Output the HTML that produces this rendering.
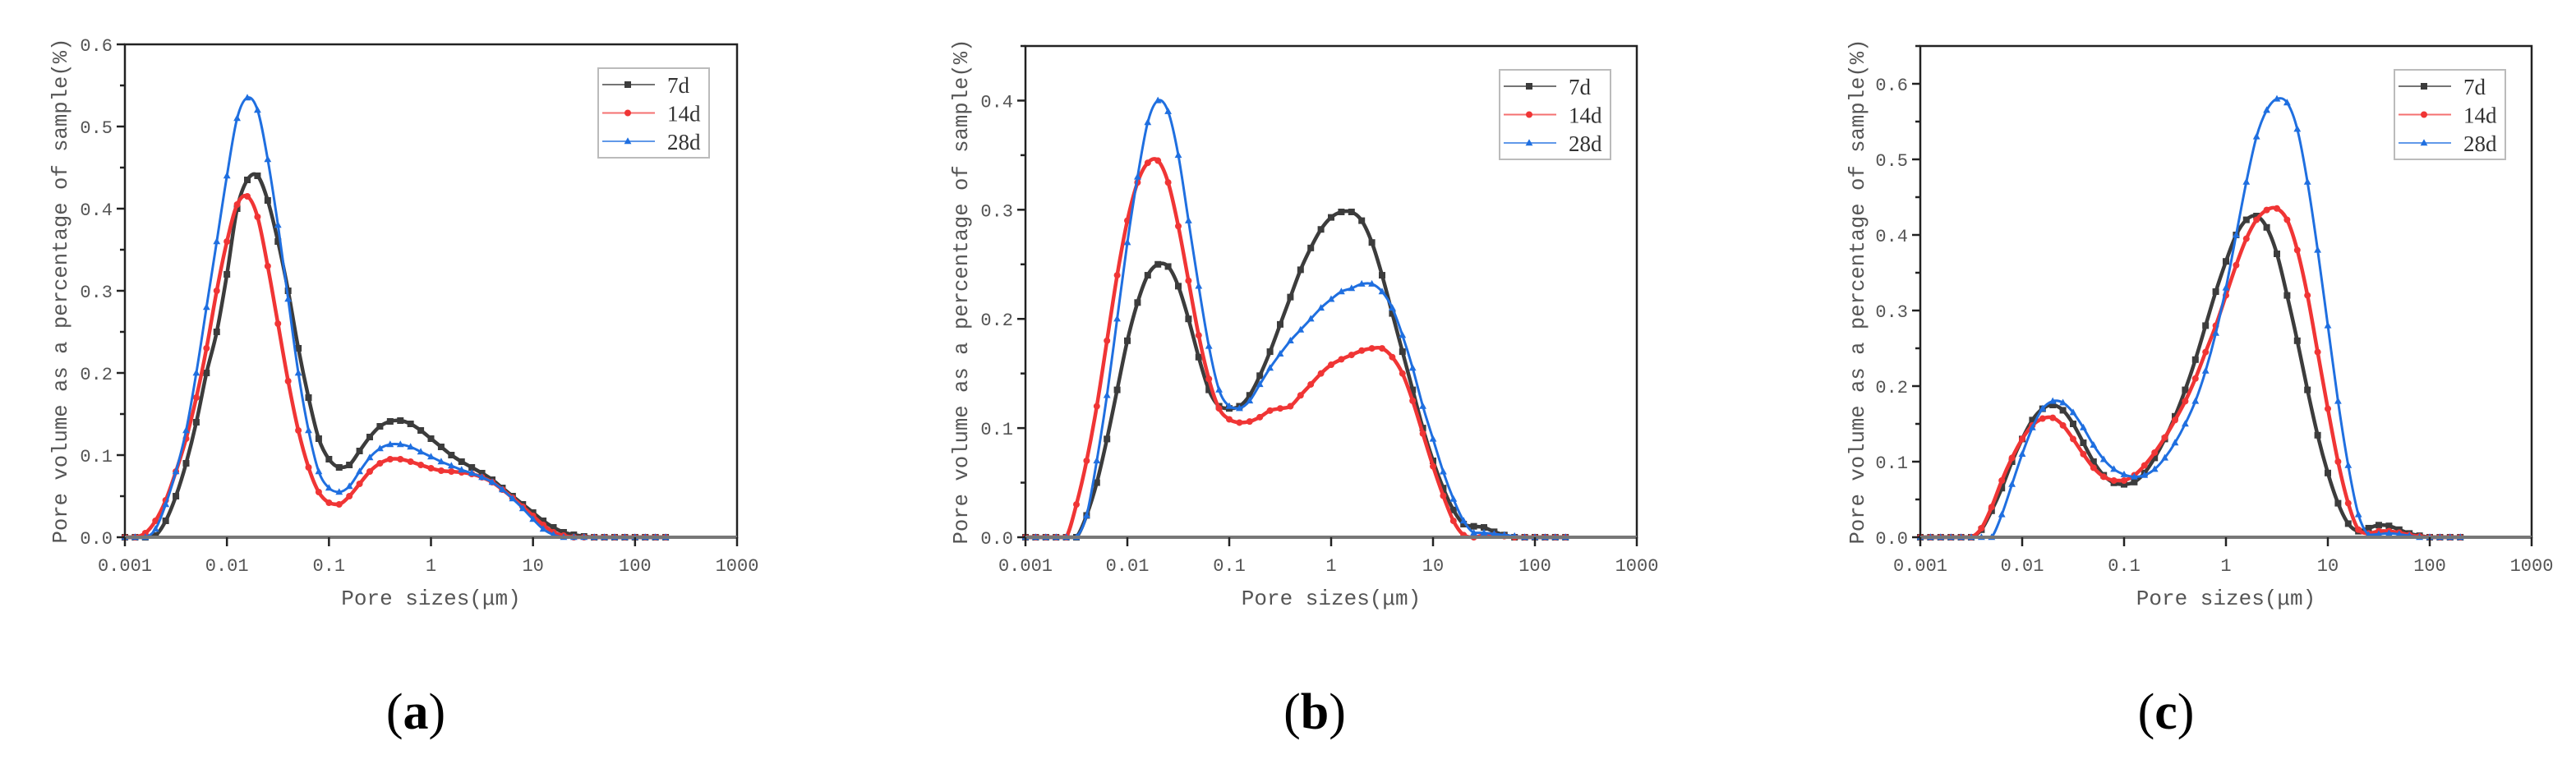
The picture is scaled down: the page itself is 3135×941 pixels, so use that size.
<!DOCTYPE html>
<html><head><meta charset="utf-8">
<style>
html,body{margin:0;padding:0;background:#fff;}
svg{display:block;}
.tick{font-family:"Liberation Mono","DejaVu Sans Mono",monospace;font-size:22px;fill:#555;}
.ttl{font-family:"Liberation Mono","DejaVu Sans Mono",monospace;font-size:26px;fill:#555;}
.leg{font-family:"Liberation Serif",serif;font-size:27px;fill:#333;}
.plab{font-family:"Liberation Serif",serif;font-size:62px;fill:#000;}
</style></head>
<body>
<svg id="fig" width="3135" height="941" viewBox="0 0 3135 941" xmlns="http://www.w3.org/2000/svg"></svg>
<script>
// shared pore size grid, log10(µm)
const poreSizeLog = [-3.0,-2.9,-2.8,-2.7,-2.6,-2.5,-2.4,-2.3,-2.2,-2.1,-2.0,-1.9,-1.8,-1.7,-1.6,-1.5,-1.4,-1.3,-1.2,-1.1,-1.0,-0.9,-0.8,-0.7,-0.6,-0.5,-0.4,-0.3,-0.2,-0.1,0.0,0.1,0.2,0.3,0.4,0.5,0.6,0.7,0.8,0.9,1.0,1.1,1.2,1.3,1.4,1.5,1.6,1.7,1.8,1.9,2.0,2.1,2.2,2.3];
const xTickLabels = ["0.001","0.01","0.1","1","10","100","1000"];
const seriesNames = ["7d","14d","28d"];

const a7  = [0,0,0,0.002, 0.02,0.05,0.09,0.14,0.2,0.25,0.32,0.4,0.435,0.44, 0.41,0.36,0.3,0.23,0.17,0.12,0.095,0.085,0.088,0.105, 0.122,0.135,0.141,0.142,0.138,0.13,0.12,0.11,0.1,0.092, 0.085,0.078,0.07,0.06,0.05,0.04,0.03,0.02,0.012,0.006, 0.003,0.001,0,0,0,0,0,0,0,0];
const a14 = [0,0,0.005,0.02, 0.045,0.08,0.12,0.17,0.23,0.3,0.36,0.405,0.415,0.39, 0.33,0.26,0.19,0.13,0.085,0.055,0.042,0.04,0.05,0.065, 0.08,0.09,0.095,0.095,0.092,0.088,0.084,0.081,0.08,0.079, 0.077,0.073,0.067,0.058,0.048,0.037,0.026,0.015,0.006,0.002, 0,0,0,0,0,0,0,0,0,0];
const a28 = [0,0,0,0.01, 0.04,0.08,0.13,0.2,0.28,0.36,0.44,0.51,0.535,0.52, 0.46,0.38,0.29,0.2,0.13,0.08,0.06,0.055,0.062,0.08, 0.097,0.108,0.113,0.113,0.11,0.104,0.098,0.092,0.087,0.082, 0.078,0.073,0.067,0.058,0.047,0.035,0.022,0.01,0.003,0, 0,0,0,0,0,0,0,0,0,0];

const b7  = [0,0,0,0, 0,0,0.02,0.05,0.09,0.135,0.18,0.215,0.24,0.25, 0.248,0.23,0.2,0.165,0.135,0.12,0.118,0.12,0.13,0.148, 0.17,0.195,0.22,0.245,0.265,0.282,0.293,0.298,0.298,0.29, 0.27,0.24,0.205,0.17,0.135,0.1,0.07,0.045,0.025,0.012, 0.01,0.009,0.005,0.002,0,0,0,0,0,0];
const b14 = [0,0,0,0, 0,0.03,0.07,0.12,0.18,0.24,0.29,0.325,0.343,0.345, 0.325,0.285,0.235,0.185,0.145,0.118,0.108,0.105,0.106,0.11, 0.116,0.118,0.12,0.13,0.14,0.15,0.158,0.163,0.167,0.171, 0.173,0.173,0.165,0.15,0.125,0.095,0.065,0.038,0.015,0.002, 0,0.002,0.002,0.001,0,0,0,0,0,0];
const b28 = [0,0,0,0, 0,0,0.02,0.07,0.13,0.2,0.27,0.33,0.38,0.4, 0.39,0.35,0.29,0.23,0.175,0.135,0.12,0.118,0.125,0.14, 0.155,0.168,0.18,0.19,0.2,0.21,0.218,0.225,0.228,0.232, 0.232,0.225,0.21,0.185,0.155,0.12,0.09,0.06,0.035,0.015, 0.004,0.004,0.003,0.002,0.001,0,0,0,0,0];

const c7  = [0,0,0,0, 0,0,0.01,0.035,0.065,0.1,0.13,0.155,0.17,0.175, 0.168,0.15,0.125,0.1,0.082,0.072,0.07,0.073,0.085,0.105, 0.13,0.16,0.195,0.235,0.28,0.325,0.365,0.4,0.42,0.425, 0.41,0.375,0.32,0.26,0.195,0.135,0.085,0.045,0.018,0.008, 0.012,0.016,0.015,0.01,0.005,0.002,0,0,0,0];
const c14 = [0,0,0,0, 0,0,0.012,0.04,0.075,0.105,0.13,0.148,0.157,0.158, 0.148,0.13,0.11,0.092,0.08,0.075,0.075,0.082,0.095,0.112, 0.132,0.155,0.18,0.21,0.245,0.28,0.32,0.36,0.395,0.42, 0.433,0.435,0.42,0.38,0.32,0.245,0.17,0.1,0.045,0.01, 0.005,0.008,0.008,0.006,0.003,0.001,0,0,0,0];
const c28 = [0,0,0,0, 0,0,0,0,0.03,0.07,0.11,0.145,0.17,0.18, 0.178,0.165,0.145,0.122,0.103,0.09,0.083,0.08,0.082,0.09, 0.105,0.125,0.15,0.18,0.22,0.27,0.33,0.4,0.47,0.53, 0.565,0.58,0.575,0.54,0.47,0.38,0.28,0.18,0.095,0.03, 0.003,0.004,0.005,0.004,0.002,0,0,0,0,0];

const aYTicks = ["0.0","0.1","0.2","0.3","0.4","0.5","0.6"];
const bYTicks = ["0.0","0.1","0.2","0.3","0.4"];
const cYTicks = ["0.0","0.1","0.2","0.3","0.4","0.5","0.6"];

const NS = "http://www.w3.org/2000/svg";
const svg = document.getElementById('fig');
const colors = ["#3c3c3c","#f03535","#1f6fe0"];

function mk(tag, parent){ const e=document.createElementNS(NS,tag); parent.appendChild(e); return e; }

function smoothPath(pts){
  let d = "M"+pts[0][0].toFixed(1)+","+pts[0][1].toFixed(1);
  for(let i=0;i<pts.length-1;i++){
    const p0=pts[Math.max(0,i-1)], p1=pts[i], p2=pts[i+1], p3=pts[Math.min(pts.length-1,i+2)];
    let c1y=p1[1]+(p2[1]-p0[1])/6, c2y=p2[1]-(p3[1]-p1[1])/6;
    const base = Math.max(p1[1],p2[1]);
    c1y=Math.min(c1y,base); c2y=Math.min(c2y,base);
    d+=" C"+(p1[0]+(p2[0]-p0[0])/6).toFixed(1)+","+c1y.toFixed(1)+" "+(p2[0]-(p3[0]-p1[0])/6).toFixed(1)+","+c2y.toFixed(1)+" "+p2[0].toFixed(1)+","+p2[1].toFixed(1);
  }
  return d;
}

function marker(g, k, x, y, s){
  let m;
  if(k===0){ m=mk('rect',g); m.setAttribute('x',x-s/2); m.setAttribute('y',y-s/2); m.setAttribute('width',s); m.setAttribute('height',s); }
  else if(k===1){ m=mk('circle',g); m.setAttribute('cx',x); m.setAttribute('cy',y); m.setAttribute('r',s/2); }
  else { m=mk('polygon',g); m.setAttribute('points',(x)+","+(y-s*0.6)+" "+(x-s*0.55)+","+(y+s*0.4)+" "+(x+s*0.55)+","+(y+s*0.4)); }
  m.setAttribute('fill',colors[k]);
  return m;
}

function panel(id, L, R, T, B, yMax, yTicks, series, legX, labX, label, yTitleX){
  const g = mk('g', svg);
  
  
  const xs = v => L + (v+3)/6*(R-L);
  const ys = v => B - v/yMax*(B-T);

  series.forEach((vals,k)=>{
    const sg = mk('g', g);
    
    
    const pts = poreSizeLog.map((x,i)=>[xs(x), ys(vals[i])]);
    const p = mk('path', sg);
    
    
    p.setAttribute('d', smoothPath(pts));
    p.setAttribute('fill','none');
    p.setAttribute('stroke', colors[k]);
    p.setAttribute('stroke-width', k===2?3:4.5);
    pts.forEach(pt=>{
      const m = marker(sg,k,pt[0],pt[1],8);
      
      
    });
  });

  const fr = mk('rect', g);
  
  
  fr.setAttribute('x',L); fr.setAttribute('y',T); fr.setAttribute('width',R-L); fr.setAttribute('height',B-T);
  fr.setAttribute('fill','none'); fr.setAttribute('stroke','#222'); fr.setAttribute('stroke-width','2.5');
  const xb = mk('line', g);
   
  xb.setAttribute('x1',L); xb.setAttribute('x2',R); xb.setAttribute('y1',B); xb.setAttribute('y2',B);
  xb.setAttribute('stroke','#777'); xb.setAttribute('stroke-width','4');

  xTickLabels.forEach((lab,i)=>{
    const x = xs(i-3);
    const t = mk('line', g);
     
    t.setAttribute('x1',x); t.setAttribute('x2',x); t.setAttribute('y1',B); t.setAttribute('y2',B+11);
    t.setAttribute('stroke','#222'); t.setAttribute('stroke-width','2.5');
    const tx = mk('text', g);
     
    tx.setAttribute('class','tick'); tx.setAttribute('x',x); tx.setAttribute('y',B+41); tx.setAttribute('text-anchor','middle');
    tx.textContent = lab;
  });
  for(let v=0; v<=yMax+1e-9; v+=0.05){
    const y = ys(v);
    const major = Math.abs(Math.round(v*20)%2)===0;
    const t = mk('line', g);
     
    t.setAttribute('x1',L); t.setAttribute('x2',L-(major?10:6)); t.setAttribute('y1',y); t.setAttribute('y2',y);
    t.setAttribute('stroke','#222'); t.setAttribute('stroke-width','2.5');
  }
  yTicks.forEach((lab,i)=>{
    const tx = mk('text', g);
     
    tx.setAttribute('class','tick'); tx.setAttribute('x',L-15); tx.setAttribute('y',ys(parseFloat(lab))+8); tx.setAttribute('text-anchor','end');
    tx.textContent = lab;
  });
  const xt = mk('text', g);
   
  xt.setAttribute('class','ttl'); xt.setAttribute('x',(L+R)/2); xt.setAttribute('y',B+82); xt.setAttribute('text-anchor','middle');
  xt.textContent = "Pore sizes(μm)";
  const yt = mk('text', g);
   
  yt.setAttribute('class','ttl');
  yt.setAttribute('transform','translate('+yTitleX+','+((T+B)/2)+') rotate(-90)');
  yt.setAttribute('text-anchor','middle'); yt.setAttribute('textLength','615'); yt.setAttribute('lengthAdjust','spacingAndGlyphs');
  yt.setAttribute('y','9');
  yt.textContent = "Pore volume as a percentage of sample(%)";

  const lg = mk('g', g);
   
  const box = mk('rect', lg);
   
  box.setAttribute('x',legX); box.setAttribute('y',T+29); box.setAttribute('width',135); box.setAttribute('height',109);
  box.setAttribute('fill','#fff'); box.setAttribute('stroke','#bbb'); box.setAttribute('stroke-width','2');
  seriesNames.forEach((nm,k)=>{
    const ry = T+49+k*34.5;
    const ln = mk('line', lg);
     
    ln.setAttribute('x1',legX+5); ln.setAttribute('x2',legX+69); ln.setAttribute('y1',ry); ln.setAttribute('y2',ry);
    ln.setAttribute('stroke',colors[k]); ln.setAttribute('stroke-width','2'); ln.setAttribute('opacity','0.7');
    const m = marker(lg,k,legX+36,ry,8);
     
    const tx = mk('text', lg);
     
    tx.setAttribute('class','leg'); tx.setAttribute('x',legX+84); tx.setAttribute('y',ry+10);
    tx.textContent = nm;
  });

  const pl = mk('text', svg);
   
  pl.setAttribute('class','plab'); pl.setAttribute('x',labX); pl.setAttribute('y',887); pl.setAttribute('text-anchor','middle');
  pl.innerHTML = '(<tspan font-weight="bold">'+label+'</tspan>)';
}

panel('a', 152, 897, 54, 654, 0.6, aYTicks, [a7,a14,a28], 728, 506, 'a', 72);
panel('b', 1248, 1992, 56, 654, 0.45, bYTicks, [b7,b14,b28], 1825, 1600, 'b', 1168);
panel('c', 2337, 3081, 56, 654, 0.65, cYTicks, [c7,c14,c28], 2914, 2636, 'c', 2259);
</script>
</body></html>
